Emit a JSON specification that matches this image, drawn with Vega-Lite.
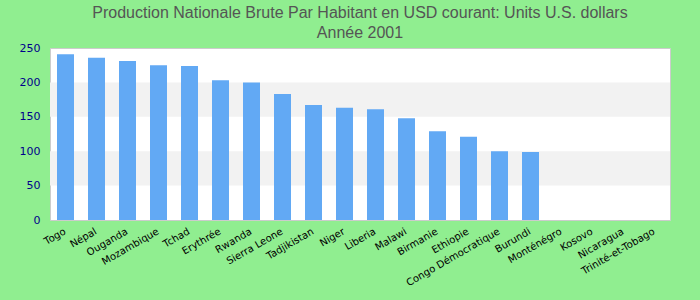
{
  "$schema": "https://vega.github.io/schema/vega-lite/v6.json",
  "width": 620,
  "height": 172,
  "padding": {"left": 50, "top": 48, "right": 30, "bottom": 80},
  "autosize": {"type": "none"},
  "background": "#90ee90",
  "title": {
    "text": ["Production Nationale Brute Par Habitant en USD courant: Units U.S. dollars", "Année 2001"],
    "font": "Liberation Sans",
    "fontSize": 16,
    "fontWeight": "normal",
    "color": "#555555",
    "anchor": "middle",
    "offset": 1,
    "lineHeight": 20
  },
  "config": {
    "view": {"fill": "white", "stroke": "#cccccc", "strokeWidth": 1}
  },
  "datasets": {
    "bars": [
      {"pays": "Togo", "valeur": 241},
      {"pays": "Népal", "valeur": 236},
      {"pays": "Ouganda", "valeur": 231},
      {"pays": "Mozambique", "valeur": 225},
      {"pays": "Tchad", "valeur": 224},
      {"pays": "Erythrée", "valeur": 203},
      {"pays": "Rwanda", "valeur": 200},
      {"pays": "Sierra Leone", "valeur": 183},
      {"pays": "Tadjikistan", "valeur": 167},
      {"pays": "Niger", "valeur": 163},
      {"pays": "Liberia", "valeur": 161},
      {"pays": "Malawi", "valeur": 148},
      {"pays": "Birmanie", "valeur": 129},
      {"pays": "Ethiopie", "valeur": 121},
      {"pays": "Congo Démocratique", "valeur": 100},
      {"pays": "Burundi", "valeur": 99},
      {"pays": "Monténégro", "valeur": null},
      {"pays": "Kosovo", "valeur": null},
      {"pays": "Nicaragua", "valeur": null},
      {"pays": "Trinité-et-Tobago", "valeur": null}
    ],
    "bands": [
      {"bas": 50, "haut": 100},
      {"bas": 150, "haut": 200}
    ]
  },
  "layer": [
    {
      "data": {"name": "bands"},
      "mark": {"type": "rect", "color": "#f2f2f2"},
      "encoding": {
        "y": {
          "field": "bas",
          "type": "quantitative",
          "scale": {"domain": [0, 250]},
          "axis": {
            "title": null,
            "values": [0, 50, 100, 150, 200, 250],
            "labelFont": "DejaVu Sans",
            "labelFontSize": 11,
            "labelColor": "#00008b",
            "labelOverlap": false,
            "grid": false,
            "ticks": false,
            "domain": false,
            "labelPadding": 10
          }
        },
        "y2": {"field": "haut"}
      }
    },
    {
      "data": {"name": "bars"},
      "mark": {"type": "bar", "color": "#62a9f4", "width": 17},
      "encoding": {
        "x": {
          "field": "pays",
          "type": "nominal",
          "sort": null,
          "scale": {
            "domain": ["Togo", "Népal", "Ouganda", "Mozambique", "Tchad", "Erythrée", "Rwanda", "Sierra Leone", "Tadjikistan", "Niger", "Liberia", "Malawi", "Birmanie", "Ethiopie", "Congo Démocratique", "Burundi", "Monténégro", "Kosovo", "Nicaragua", "Trinité-et-Tobago"],
            "paddingInner": 0,
            "paddingOuter": 0
          },
          "axis": {
            "title": null,
            "labelAngle": -30,
            "labelAlign": "right",
            "labelBaseline": "top",
            "labelFont": "DejaVu Sans",
            "labelFontSize": 10,
            "labelColor": "#000000",
            "labelPadding": 6,
            "labelOverlap": false,
            "ticks": false,
            "domain": false,
            "labelOffset": -3
          }
        },
        "y": {
          "field": "valeur",
          "type": "quantitative",
          "scale": {"domain": [0, 250]},
          "axis": {
            "title": null,
            "values": [0, 50, 100, 150, 200, 250],
            "labelFont": "DejaVu Sans",
            "labelFontSize": 11,
            "labelColor": "#00008b",
            "labelOverlap": false,
            "grid": false,
            "ticks": false,
            "domain": false,
            "labelPadding": 10
          }
        }
      }
    }
  ]
}
